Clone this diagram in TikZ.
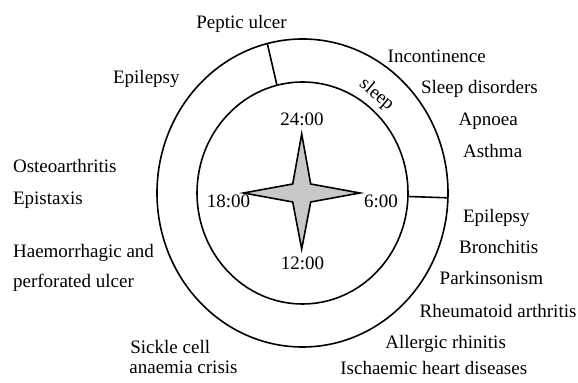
\documentclass[tikz,border=0pt]{standalone}
\usepackage{fontspec}
\setmainfont{Liberation Serif}
\usetikzlibrary{calc}
\definecolor{clockink}{RGB}{0,0,0}
\definecolor{clockgray}{RGB}{200,200,200}

\begin{document}
\begin{tikzpicture}[x=0.5pt,y=-0.5pt,
  lbl/.style={anchor=base west,inner sep=0pt,font=\fontsize{9.5}{11}\selectfont},
  hr/.style={anchor=base,inner sep=0pt,font=\fontsize{9.5}{11}\selectfont},
  ring/.style={draw=clockink,line width=0.8pt}]
\useasboundingbox (0,0) rectangle (578,383);
% Reloj: dos anillos, sector de sueño y estrella central.
\coordinate (c) at (302.5,193);
\draw[ring] (c) ellipse [x radius=105.5,y radius=111];
\draw[ring] (c) ellipse [x radius=145.5,y radius=154];
\coordinate (sIn)  at ($(c)+({105.5*cos(104)},{-111*sin(104)})$);
\coordinate (sOut) at ($(c)+({145.5*cos(104)},{-154*sin(104)})$);
\coordinate (eIn)  at ($(c)+({105.5*cos(-1.8)},{-111*sin(-1.8)})$);
\coordinate (eOut) at ($(c)+({145.5*cos(-1.8)},{-154*sin(-1.8)})$);
\draw[ring] (sIn) -- (sOut);
\draw[ring] (eIn) -- (eOut);
\node[inner sep=0pt,rotate=-40,font=\fontsize{9.5}{11}\selectfont] (sleep) at (376.5,95) {sleep};
\draw[ring,fill=clockgray,line join=miter] (301.7,134) -- (310.7,184) -- (360,193) -- (310.7,202)
  -- (301.7,249) -- (292.7,202) -- (243.5,193) -- (292.7,184) -- cycle;
\node[hr] (h24) at (302,126) {24:00};
\node[hr] (h18) at (228.4,207.3) {18:00};
\node[hr] (h6)  at (381,207.3) {6:00};
\node[hr] (h12) at (302.5,270) {12:00};
\node[lbl] (pep) at (196,28.3) {Peptic ulcer};
\node[lbl] (epiL) at (112.7,84) {Epilepsy};
\node[lbl] (ost) at (12.7,172.3) {Osteoarthritis};
\node[lbl] (epx) at (12.7,205) {Epistaxis};
\node[lbl] (hae) at (12.7,257.3) {Haemorrhagic and};
\node[lbl] (per) at (12.7,287.3) {perforated ulcer};
\node[lbl] (sic) at (130,354) {Sickle cell};
\node[lbl] (ana) at (129,374) {anaemia crisis};
\node[lbl] (inc) at (387.3,62.7) {Incontinence};
\node[lbl] (sld) at (420.7,93.3) {Sleep disorders};
\node[lbl] (apn) at (458.3,125.7) {Apnoea};
\node[lbl] (ast) at (462.7,157.3) {Asthma};
\node[lbl] (epiR) at (462.7,222.3) {Epilepsy};
\node[lbl] (bro) at (458.7,254) {Bronchitis};
\node[lbl] (par) at (439.3,285) {Parkinsonism};
\node[lbl] (rhe) at (419.3,317.3) {Rheumatoid arthritis};
\node[lbl] (all) at (385,348.3) {Allergic rhinitis};
\node[lbl] (isc) at (340,374.3) {Ischaemic heart diseases};
\end{tikzpicture}
\end{document}
